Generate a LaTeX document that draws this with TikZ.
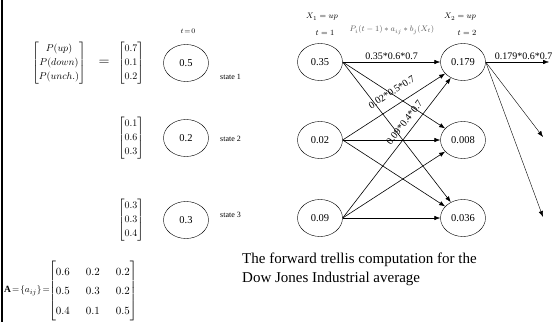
\documentclass[tikz,border=0pt]{standalone}
\usepackage{amsmath,amssymb}
\usepackage{fontspec}
\setmainfont{Liberation Serif}
\usetikzlibrary{arrows.meta,positioning,shapes.geometric}

\begin{document}
\begin{tikzpicture}[x=1pt,y=-1pt,
  st/.style={draw,ellipse,minimum width=45pt,minimum height=37pt,inner sep=0pt,font=\fontsize{10.5}{12}\selectfont},
  vec/.style={inner sep=0pt,font=\fontsize{10}{12}\selectfont},
  lab/.style={inner sep=1pt,font=\fontsize{10}{12}\selectfont},
  small/.style={inner sep=0pt,font=\fontsize{8}{10}\selectfont},
  trel/.style={->,line width=0.6pt},
  >={Latex[length=6pt,width=4.5pt]}]
\useasboundingbox (0,0) rectangle (559,322);
\draw[line width=1.2pt] (2,0) -- (2,322);

% t = 0 column
\node[vec] (pv) at (59,63) {\renewcommand{\arraystretch}{1.15}$\begin{bmatrix}P(up)\\P(down)\\P(unch.)\end{bmatrix}$};
\node[font=\Large,inner sep=0pt] (eq) at (104,63) {$=$};
\node[small,font=\fontsize{7}{9}\selectfont] (t0) at (188,31) {$t\!=\!0$};
\foreach \i/\y/\ly/\p/\b in {1/63/77/0.5/{0.7\\0.1\\0.2},2/138/139/0.2/{0.1\\0.6\\0.3},3/220/215/0.3/{0.3\\0.3\\0.4}}{
  \node[vec] (b\i) at (131,\y) {\renewcommand{\arraystretch}{1.15}$\begin{bmatrix}\b\end{bmatrix}$};
  \node[st] (s\i) at (186,\y) {\p};
  \node[small,anchor=west] (n\i) at (220,\ly) {state \i};
}

% transition matrix
\node[anchor=west,inner sep=0pt,font=\fontsize{9.5}{11}\selectfont] (alhs) at (4,291) {$\mathbf{A}\!=\!\{a_{ij}\}\!=\!$};
\node[right=0pt of alhs,inner sep=0pt,font=\fontsize{11}{13.5}\selectfont] (amat)
  {\setlength{\arraycolsep}{8pt}\renewcommand{\arraystretch}{1.45}$\begin{bmatrix}0.6&0.2&0.2\\0.5&0.3&0.2\\0.4&0.1&0.5\end{bmatrix}$};

% trellis
\node[small] (x1) at (322,17) {$X_1 = up$};
\node[small] (t1) at (325,33) {$t = 1$};
\node[small] (x2) at (460,17) {$X_2 = up$};
\node[small] (t2) at (467,33) {$t = 2$};
\node[small,black!65] (form) at (392,30) {$P_i(t-1)*a_{ij}*b_j(X_t)$};
\foreach \n/\y/\a/\b in {1/62/0.35/0.179,2/140/0.02/0.008,3/218/0.09/0.036}{
  \node[st] (l\n) at (320,\y) {\a};
  \node[st] (r\n) at (463,\y) {\b};
}
\foreach \i in {1,2,3}
  \foreach \j in {1,2,3}
    \draw[trel] (l\i.east) -- (r\j);
\path (l1.east) -- (r1) node[lab,midway,above=1pt] (c11) {0.35*0.6*0.7};
\path (l2.east) -- (r1) node[lab,sloped,pos=0.55,above=9pt] (c21) {0.02*0.5*0.7};
\path (l3.east) -- (r1) node[lab,sloped,pos=0.64,above=5pt] (c31) {0.09*0.4*0.7};

% next step
\coordinate (o1) at (549,62);
\coordinate (o2) at (543,137);
\coordinate (o3) at (543,217);
\foreach \k in {1,2,3}
  \draw[->,line width=0.4pt] (r1.east) -- (o\k);
\path (r1.east) -- (o1) node[lab,pos=0.6,above=1pt] (c1o) {0.179*0.6*0.7};

\node[anchor=north west,align=left,inner sep=0pt,font=\fontsize{15}{18.5}\selectfont] (cap) at (242,253)
  {The forward trellis computation for the\\Dow Jones Industrial average};
\end{tikzpicture}
\end{document}
